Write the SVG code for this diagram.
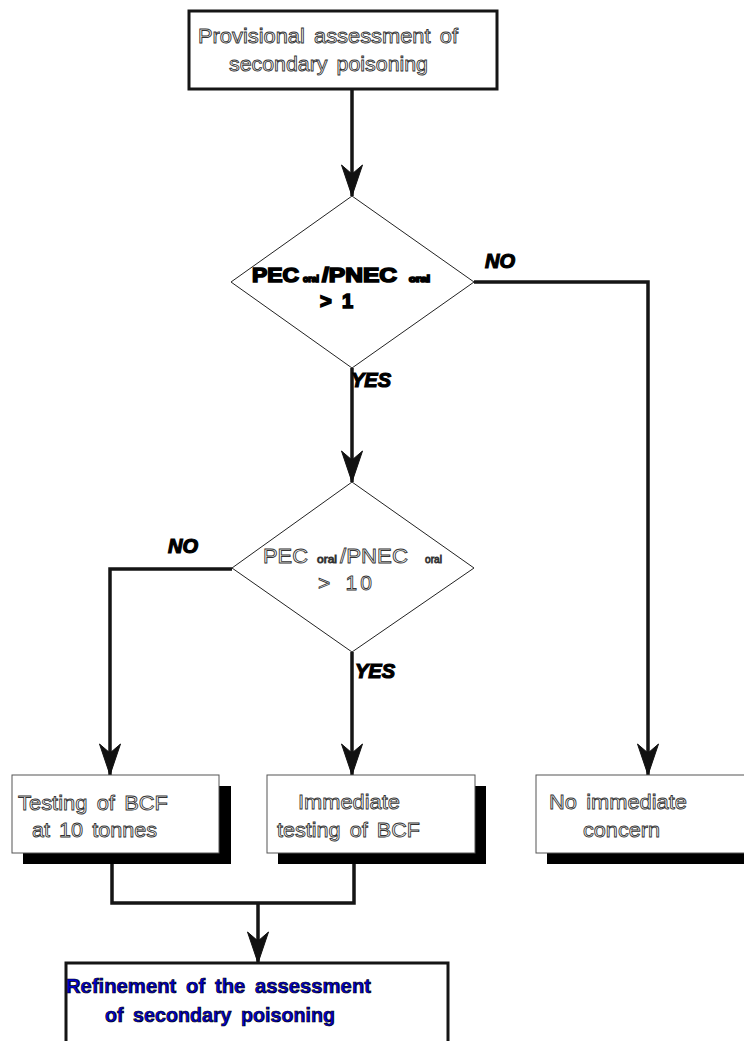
<svg xmlns="http://www.w3.org/2000/svg" width="744" height="1041" viewBox="0 0 744 1041">
  <defs>
    <!-- barbed arrowhead, drawn along +x so orient="auto" follows the line -->
    <marker id="arrow" markerUnits="userSpaceOnUse" markerWidth="34" markerHeight="24" viewBox="-33 -12 34 24" refX="0" refY="0" orient="auto">
      <path d="M0,0 L-31,-10.5 L-22,0 L-31,10.5 Z" fill="#111" stroke="#111" stroke-width="1"/>
    </marker>
  </defs>
  <style>
    .bold-box { fill: #fff; stroke: #151515; stroke-width: 3; }
    .thin-box { fill: #fff; stroke: #555; stroke-width: 1; }
    .shadow { fill: #000; }
    .diamond { fill: #fff; stroke: #222; stroke-width: 1; }
    .conn { fill: none; stroke: #151515; stroke-width: 3.5; stroke-linejoin: miter; }
    .outline { font-family: "Liberation Sans", Arial, sans-serif; fill: #fff; stroke: #333; stroke-width: 0.85; word-spacing: 3px; }
    .heavy { font-family: "Liberation Sans", Arial, sans-serif; font-weight: bold; fill: #000; stroke: #000; stroke-width: 1.6; }
    .label { font-family: "Liberation Sans", Arial, sans-serif; font-weight: bold; font-style: italic; fill: #000; stroke: #000; stroke-width: 1.2; font-size: 20px; }
    .blue { font-family: "Liberation Sans", Arial, sans-serif; font-weight: bold; fill: #0000d0; stroke: #000; stroke-width: 0.7; font-size: 19.5px; word-spacing: 4px; }
  </style>

  <rect width="744" height="1041" fill="#fff"/>

  <!-- connectors -->
  <g id="connectors">
    <path class="conn" d="M352,89 V196" marker-end="url(#arrow)"/>
    <path class="conn" d="M352,368 V482" marker-end="url(#arrow)"/>
    <path class="conn" d="M474,282 H648 V775" marker-end="url(#arrow)"/>
    <path class="conn" d="M232,569 H110 V775" marker-end="url(#arrow)"/>
    <path class="conn" d="M352,652 V775" marker-end="url(#arrow)"/>
    <path class="conn" d="M112,853 V903 H354 V853"/>
    <path class="conn" d="M258,903 V963" marker-end="url(#arrow)"/>
    <text class="label" x="485" y="268">NO</text>
    <text class="label" x="351" y="387">YES</text>
    <text class="label" x="168" y="553">NO</text>
    <text class="label" x="355" y="678">YES</text>
  </g>

  <!-- start box -->
  <g id="provisional-assessment">
    <rect class="bold-box" x="189" y="11" width="308" height="78"/>
    <text class="outline" font-size="20.5" x="198" y="43" textLength="260" lengthAdjust="spacingAndGlyphs">Provisional assessment of</text>
    <text class="outline" font-size="20.5" x="229" y="71" textLength="199" lengthAdjust="spacingAndGlyphs">secondary poisoning</text>
  </g>

  <!-- first decision -->
  <g id="decision-ratio-1">
    <polygon class="diamond" points="352,196 474,282 352,368 231,282"/>
    <text class="heavy" font-size="20" x="252" y="282" textLength="47" lengthAdjust="spacingAndGlyphs">PEC</text>
    <text class="heavy" font-size="9" x="303" y="282" stroke-width="1" textLength="16" lengthAdjust="spacingAndGlyphs">oral</text>
    <text class="heavy" font-size="20" x="322" y="282" textLength="75" lengthAdjust="spacingAndGlyphs">/PNEC</text>
    <text class="heavy" font-size="9" x="409" y="282" stroke-width="1" textLength="21" lengthAdjust="spacingAndGlyphs">oral</text>
    <text class="heavy" font-size="20" x="320" y="308">&gt;</text>
    <text class="heavy" font-size="20" x="342" y="308">1</text>
  </g>

  <!-- second decision -->
  <g id="decision-ratio-10">
    <polygon class="diamond" points="352,482 474,568 352,652 232,568"/>
    <text class="outline" font-size="21" x="263" y="563" textLength="45" lengthAdjust="spacingAndGlyphs">PEC</text>
    <text class="outline" font-size="10" x="317" y="563" stroke-width="0.5" textLength="20" lengthAdjust="spacingAndGlyphs">oral</text>
    <text class="outline" font-size="21" x="340" y="563" textLength="68" lengthAdjust="spacingAndGlyphs">/PNEC</text>
    <text class="outline" font-size="10" x="425" y="563" stroke-width="0.5" textLength="17" lengthAdjust="spacingAndGlyphs">oral</text>
    <text class="outline" font-size="21" x="318" y="590" textLength="54" lengthAdjust="spacing">&gt; 10</text>
  </g>

  <!-- outcome boxes -->
  <g id="testing-at-10-tonnes">
    <rect class="shadow" x="23" y="786" width="208" height="78"/>
    <rect class="thin-box" x="12" y="775" width="207" height="78"/>
    <text class="outline" font-size="21" x="18" y="810" textLength="150" lengthAdjust="spacingAndGlyphs">Testing of BCF</text>
    <text class="outline" font-size="21" x="32" y="837" textLength="125" lengthAdjust="spacingAndGlyphs">at 10 tonnes</text>
  </g>

  <g id="immediate-testing">
    <rect class="shadow" x="278" y="786" width="208" height="78"/>
    <rect class="thin-box" x="267" y="775" width="208" height="78"/>
    <text class="outline" font-size="21" x="298" y="809" textLength="102" lengthAdjust="spacingAndGlyphs">Immediate</text>
    <text class="outline" font-size="21" x="277" y="837" textLength="143" lengthAdjust="spacingAndGlyphs">testing of BCF</text>
  </g>

  <g id="no-immediate-concern">
    <rect class="shadow" x="547" y="786" width="210" height="78"/>
    <rect class="thin-box" x="536" y="775" width="220" height="78"/>
    <text class="outline" font-size="21" x="549" y="809" textLength="138" lengthAdjust="spacingAndGlyphs">No immediate</text>
    <text class="outline" font-size="21" x="583" y="837" textLength="77" lengthAdjust="spacingAndGlyphs">concern</text>
  </g>

  <!-- final box -->
  <g id="refinement">
    <rect class="bold-box" x="66" y="963" width="382" height="100"/>
    <text class="blue" x="66" y="993" textLength="305" lengthAdjust="spacingAndGlyphs">Refinement of the assessment</text>
    <text class="blue" x="105" y="1022" textLength="230" lengthAdjust="spacingAndGlyphs">of secondary poisoning</text>
  </g>
</svg>
